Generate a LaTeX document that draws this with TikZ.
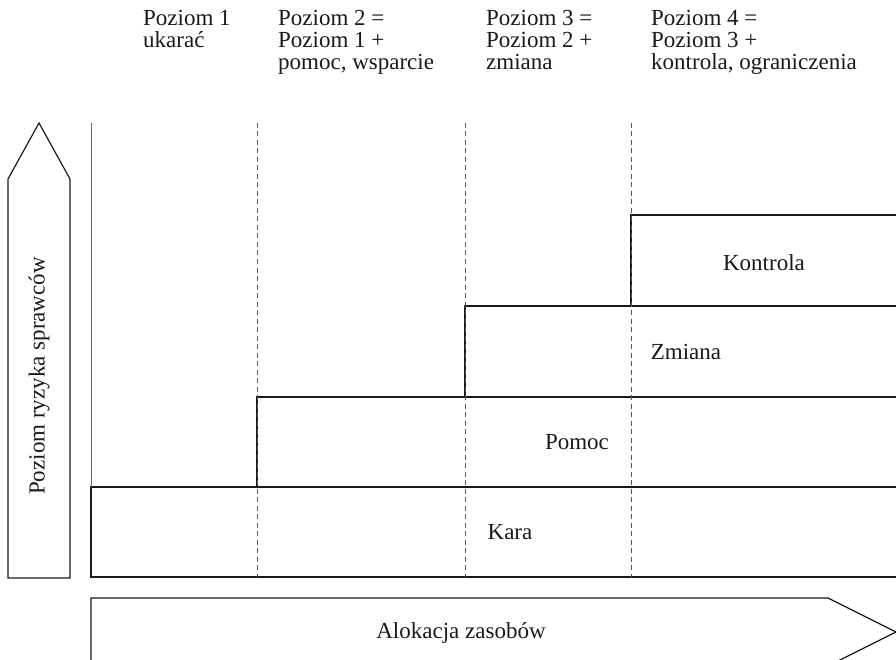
\documentclass[tikz,border=0pt]{standalone}
\usepackage{fontspec}
\setmainfont{Liberation Serif}
\usepackage{tikz}
\usetikzlibrary{positioning}
\definecolor{ink}{HTML}{1A1A1A}
\definecolor{dashgray}{HTML}{555555}
\definecolor{axisgray}{HTML}{6A6A6A}
\tikzset{
  band/.style={draw=ink, line width=1.4pt},
  guide/.style={draw=dashgray, dash pattern=on 5pt off 3.5pt, line width=0.8pt},
  axisline/.style={draw=axisgray, line width=1pt},
  arrowbox/.style={draw=ink, line width=1.2pt, line join=miter},
  lab/.style={text=ink, font=\fontsize{23}{22}\selectfont, inner sep=0pt},
  head/.style={lab, align=left, anchor=base west},
}

\begin{document}
\begin{tikzpicture}[x=1pt,y=-1pt]
  \useasboundingbox (0,0) rectangle (896,660);
  \clip (0,0) rectangle (896,660);
  % column headings (anchored at the last line)
  \node[head] (lvl1) at (143,48) {Poziom 1\\ukarać};
  \node[head] (lvl2) at (278,70) {Poziom 2 =\\Poziom 1 +\\pomoc, wsparcie};
  \node[head] (lvl3) at (486,70) {Poziom 3 =\\Poziom 2 +\\zmiana};
  \node[head] (lvl4) at (651,70) {Poziom 4 =\\Poziom 3 +\\kontrola, ograniczenia};
  % stacked bands
  \foreach \l/\t/\b in {91/487/577, 257/397/487, 465/306/397, 631/215/306}
    \draw[band] (\l,\t) rectangle (920,\b);
  \foreach \x in {257,465,631}
    \draw[guide] (\x,123) -- (\x,577);
  \draw[axisline] (91,123) -- (91,487);
  \node[lab] (kara) at (510,532) {Kara};
  \node[lab] (pomoc) at (577,442) {Pomoc};
  \node[lab] (zmiana) at (686,352) {Zmiana};
  \node[lab] (kontrola) at (764,263) {Kontrola};
  % axes as arrows
  \draw[arrowbox] (8,578) -- (8,179) -- (39,123) -- (70,179) -- (70,578) -- cycle;
  \node[lab, rotate=90] (risk) at (39,376) {Poziom ryzyka sprawców};
  \draw[arrowbox] (91,666) -- (91,598) -- (828,598) -- (896,632) -- (828,666) -- cycle;
  \node[lab] (alloc) at (461,633) {Alokacja zasobów};
\end{tikzpicture}
\end{document}
